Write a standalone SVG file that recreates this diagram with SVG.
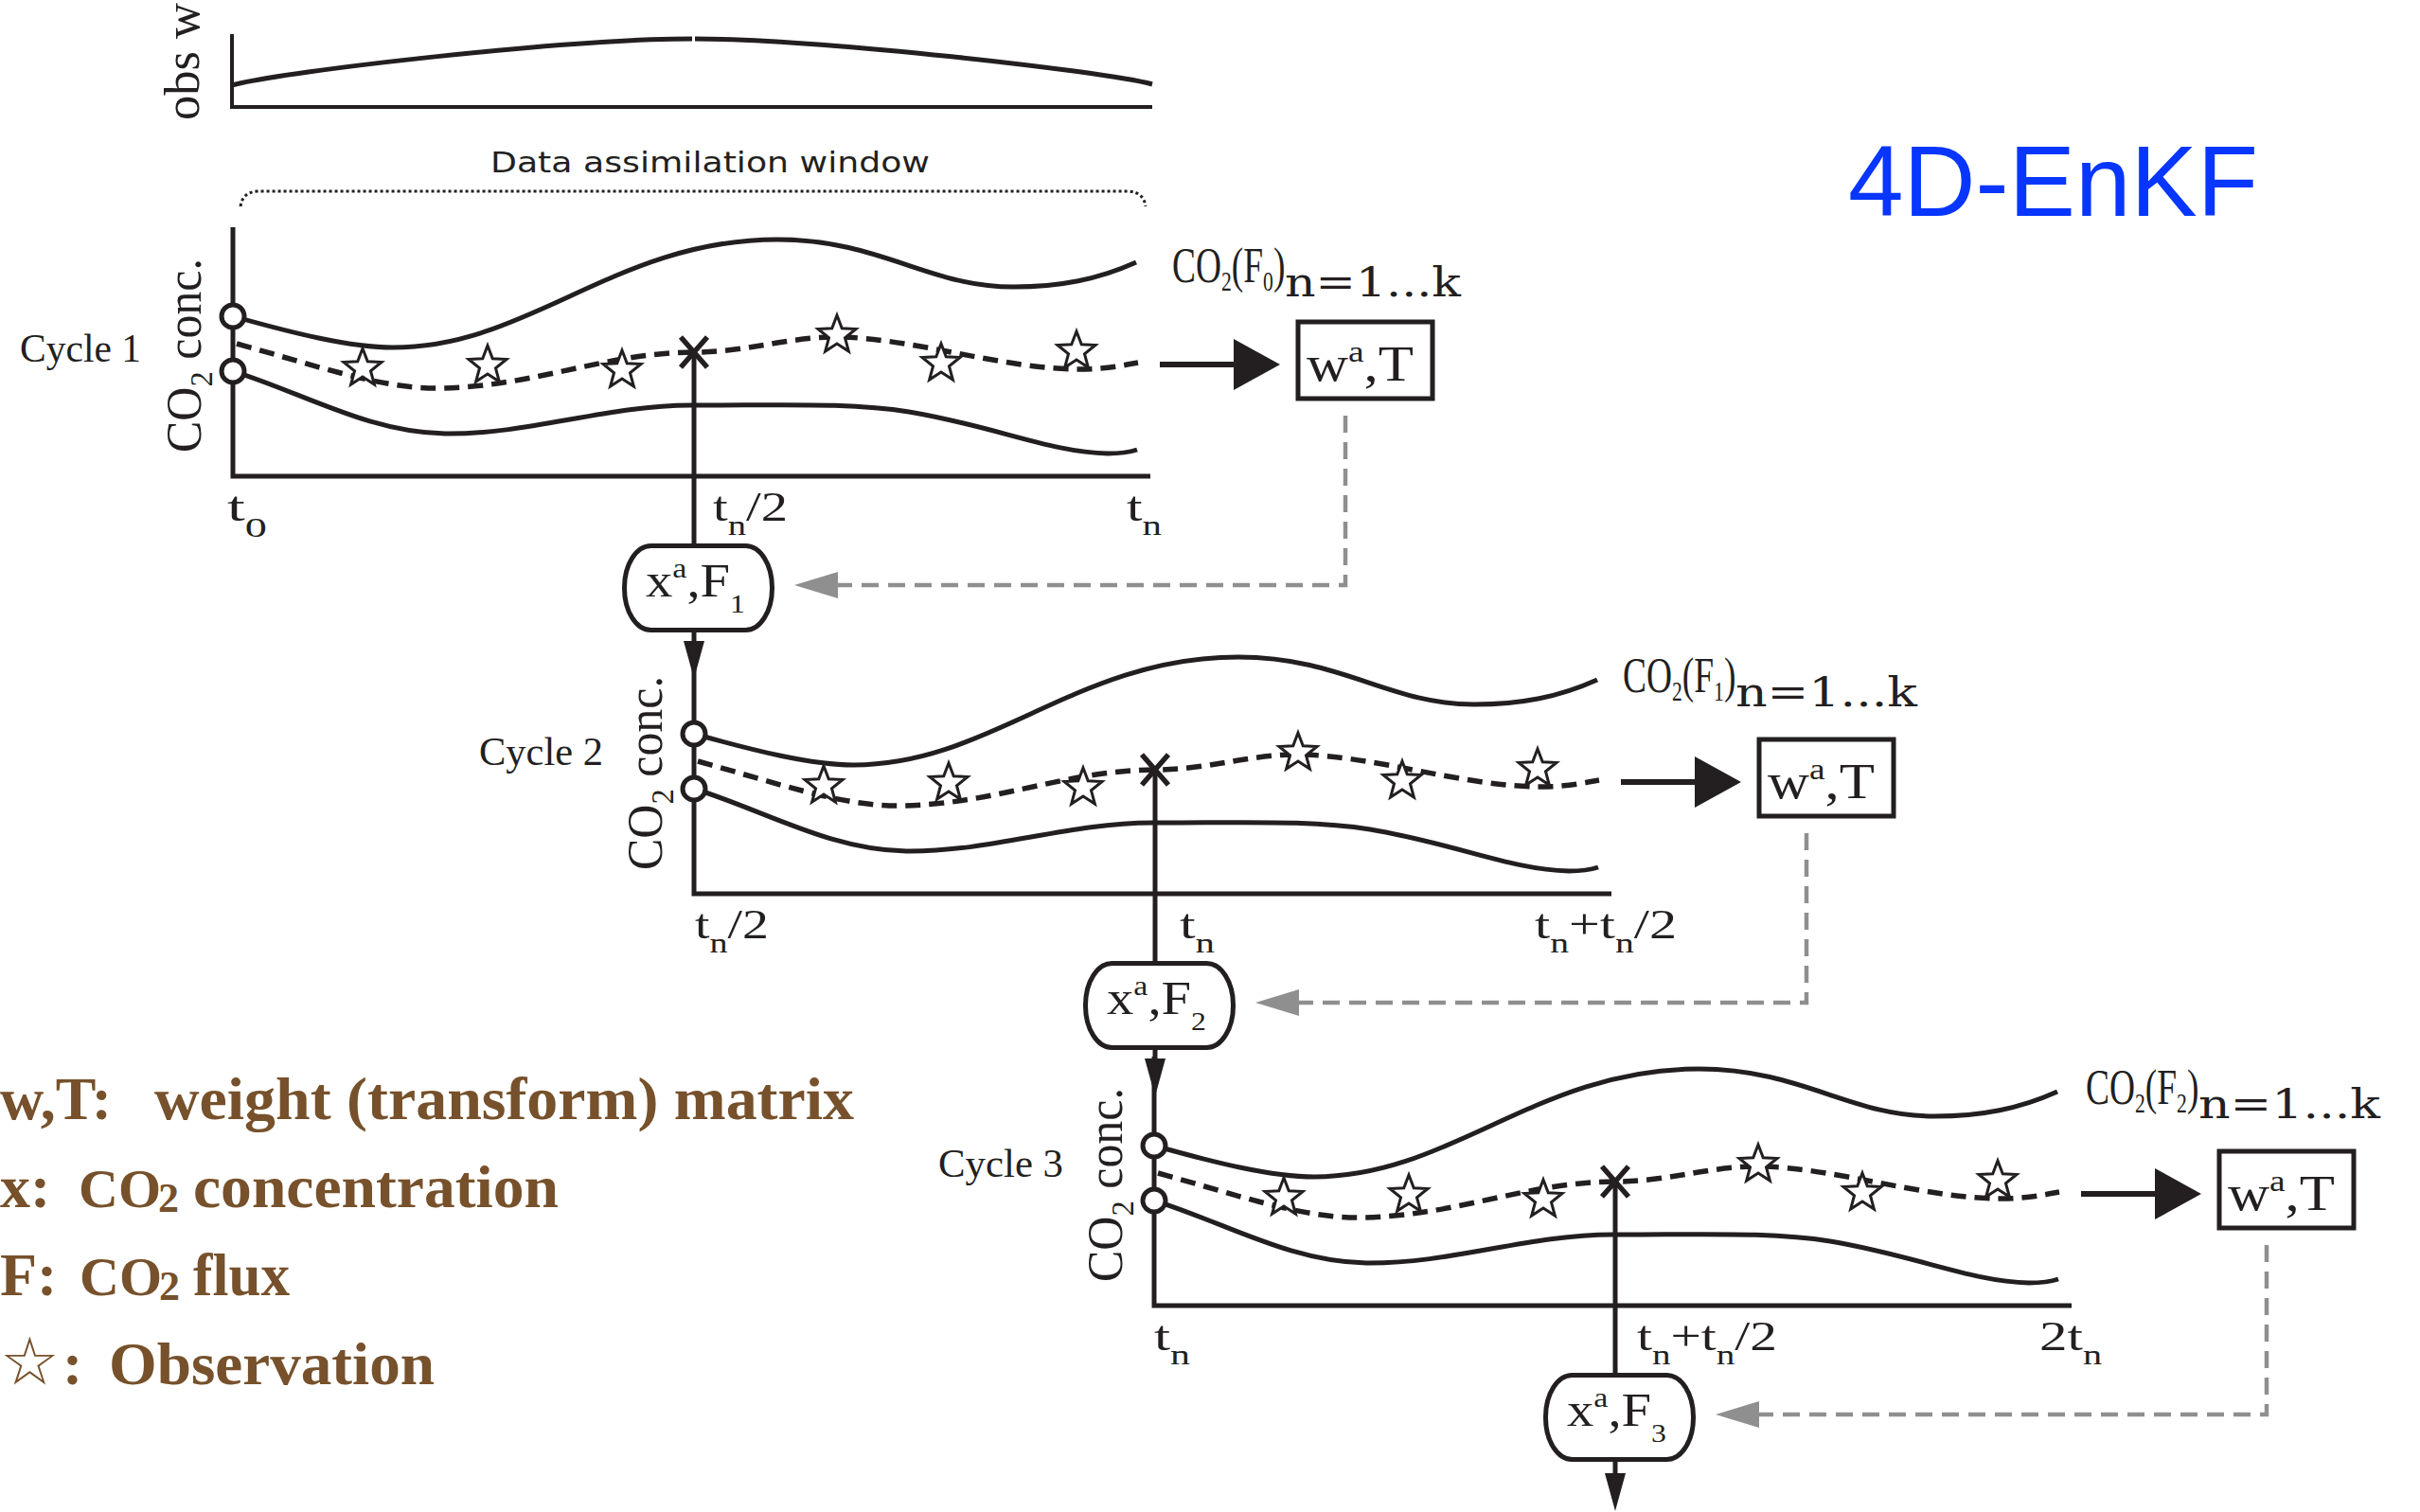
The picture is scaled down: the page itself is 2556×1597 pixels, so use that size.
<svg xmlns="http://www.w3.org/2000/svg" xmlns:xlink="http://www.w3.org/1999/xlink" width="2556" height="1597" viewBox="0 0 2556 1597">
<style>
.ln{fill:none;stroke:#231f20;stroke-width:5}
.dsh{fill:none;stroke:#231f20;stroke-width:5.5;stroke-dasharray:16 9}
.gray{fill:none;stroke:#8f8f8f;stroke-width:4.5;stroke-dasharray:18 10}
.st{fill:#fff;stroke:#231f20;stroke-width:3}
.box{fill:#fff;stroke:#231f20;stroke-width:5}
.serif{font-family:"Liberation Serif",serif;fill:#231f20}
.nk{font-family:"DejaVu Serif","Liberation Serif",serif;fill:#231f20;font-size:42px}
.tick{font-family:"Liberation Serif",serif;fill:#231f20;font-size:44px}
.leg{font-family:"Liberation Serif",serif;font-weight:bold;font-size:64px;fill:#76512b}
</style>
<defs>
<marker id="ahBig" markerUnits="userSpaceOnUse" markerWidth="50" markerHeight="54" viewBox="0 0 50 54" refX="0" refY="27" orient="auto"><path d="M0,0 L49,27 L0,54 z" fill="#231f20"/></marker>
<marker id="ahSmall" markerUnits="userSpaceOnUse" markerWidth="40" markerHeight="22" viewBox="0 0 40 22" refX="0" refY="11" orient="auto"><path d="M0,0 L40,11 L0,22 z" fill="#231f20"/></marker>
<marker id="ahGray" markerUnits="userSpaceOnUse" markerWidth="46" markerHeight="28" viewBox="0 0 46 28" refX="0" refY="14" orient="auto"><path d="M0,0 L46,14 L0,28 z" fill="#8f8f8f"/></marker>
<path id="star" class="st" d="M0,-21 L5.25,-7.22 L19.97,-6.49 L8.48,2.76 L12.35,16.99 L0,9 L-12.35,16.99 L-8.48,2.76 L-19.97,-6.49 L-5.25,-7.22 Z"/>
<g id="plot">
  <path class="ln" d="M246,240 V503 H1215"/>
  <path class="ln" d="M246,334 C310,352 370,367 415,367 C560,367 650,253 821,253 C930,253 980,303 1070,303 C1120,303 1160,295 1200,277"/>
  <path class="ln" d="M246,392 C320,415 390,457 470,458 C560,459 640,428 730,428 C830,428 900,425 960,435 C1050,450 1110,478 1170,479 C1185,479 1195,477 1201,475"/>
  <path class="dsh" d="M250,363 C330,385 400,410 460,410 C560,410 640,372 733,372 C790,372 830,356 883,356 C960,356 1060,390 1140,390 C1170,390 1190,385 1202,383"/>
  <use href="#star" x="383" y="389"/>
  <use href="#star" x="515" y="386"/>
  <use href="#star" x="657" y="391"/>
  <use href="#star" x="884" y="354"/>
  <use href="#star" x="994" y="384"/>
  <use href="#star" x="1137" y="371"/>
  <path class="ln" style="stroke-width:5.5" d="M719,356 L747,388 M747,356 L719,388"/>
  <circle class="box" cx="246" cy="334" r="12"/>
  <circle class="box" cx="246" cy="392" r="12"/>
  <text class="serif" font-size="52" transform="translate(212,478) rotate(-90)" textLength="205" lengthAdjust="spacingAndGlyphs">CO<tspan font-size="34" dy="12">2</tspan><tspan dy="-12"> conc.</tspan></text>
</g>
</defs>

<g id="obs-w">
  <path class="ln" style="stroke-width:4" d="M245,36 V113 H1217"/>
  <path class="ln" d="M245,90 C300,75 600,41 731,41"/>
  <path class="ln" d="M734,41 C865,41 1165,75 1217,89"/>
  <text class="serif" font-size="52" transform="translate(210,127) rotate(-90)" textLength="124" lengthAdjust="spacingAndGlyphs">obs w</text>
</g>

<g id="window">
  <text x="518" y="182" font-family="DejaVu Sans, sans-serif" font-size="31" fill="#231f20" textLength="464" lengthAdjust="spacingAndGlyphs">Data assimilation window</text>
  <path d="M254,218 Q256,203 272,202 L1192,202 Q1208,203 1210,218" fill="none" stroke="#231f20" stroke-width="3" stroke-dasharray="3 3"/>
</g>

<text id="title" x="1952" y="228" font-family="Liberation Sans, Arial, sans-serif" font-size="106" fill="#0836ff" textLength="433" lengthAdjust="spacingAndGlyphs">4D-EnKF</text>

<g id="cycle1">
  <use href="#plot"/>
  <text class="serif" x="21" y="382" font-size="42" textLength="128" lengthAdjust="spacingAndGlyphs">Cycle 1</text>
  <text class="tick" x="240" y="550" textLength="42" lengthAdjust="spacingAndGlyphs">t<tspan font-size="30" dy="17">0</tspan></text>
  <text class="tick" x="753" y="550" textLength="79" lengthAdjust="spacingAndGlyphs">t<tspan font-size="30" dy="15">n</tspan><tspan dy="-15">/2</tspan></text>
  <text class="tick" x="1190" y="550" textLength="37" lengthAdjust="spacingAndGlyphs">t<tspan font-size="30" dy="15">n</tspan></text>
  <text class="serif" font-size="52" transform="translate(1238,298) scale(0.72,1)">CO<tspan font-size="30" dy="9">2</tspan><tspan dy="-9">(F</tspan><tspan font-size="30" dy="9">0</tspan><tspan dy="-9">)</tspan></text>
  <text class="nk" x="1357" y="313" textLength="186" lengthAdjust="spacingAndGlyphs">n=1...k</text>
</g>

<g id="cycle2">
  <use href="#plot" transform="translate(487,441)"/>
  <text class="serif" x="506" y="808" font-size="42" textLength="131" lengthAdjust="spacingAndGlyphs">Cycle 2</text>
  <text class="tick" x="734" y="991" textLength="78" lengthAdjust="spacingAndGlyphs">t<tspan font-size="30" dy="15">n</tspan><tspan dy="-15">/2</tspan></text>
  <text class="tick" x="1246" y="991" textLength="37" lengthAdjust="spacingAndGlyphs">t<tspan font-size="30" dy="15">n</tspan></text>
  <text class="tick" x="1621" y="991" textLength="150" lengthAdjust="spacingAndGlyphs">t<tspan font-size="30" dy="15">n</tspan><tspan dy="-15">+t</tspan><tspan font-size="30" dy="15">n</tspan><tspan dy="-15">/2</tspan></text>
  <text class="serif" font-size="52" transform="translate(1714,731) scale(0.72,1)">CO<tspan font-size="30" dy="9">2</tspan><tspan dy="-9">(F</tspan><tspan font-size="30" dy="9">1</tspan><tspan dy="-9">)</tspan></text>
  <text class="nk" x="1833" y="746" textLength="192" lengthAdjust="spacingAndGlyphs">n=1...k</text>
</g>

<g id="cycle3">
  <use href="#plot" transform="translate(973,876)"/>
  <text class="serif" x="991" y="1243" font-size="42" textLength="132" lengthAdjust="spacingAndGlyphs">Cycle 3</text>
  <text class="tick" x="1219" y="1426" textLength="38" lengthAdjust="spacingAndGlyphs">t<tspan font-size="30" dy="15">n</tspan></text>
  <text class="tick" x="1729" y="1426" textLength="148" lengthAdjust="spacingAndGlyphs">t<tspan font-size="30" dy="15">n</tspan><tspan dy="-15">+t</tspan><tspan font-size="30" dy="15">n</tspan><tspan dy="-15">/2</tspan></text>
  <text class="tick" x="2154" y="1426" textLength="66" lengthAdjust="spacingAndGlyphs">2t<tspan font-size="30" dy="15">n</tspan></text>
  <text class="serif" font-size="52" transform="translate(2203,1166) scale(0.72,1)">CO<tspan font-size="30" dy="9">2</tspan><tspan dy="-9">(F</tspan><tspan font-size="30" dy="9">2</tspan><tspan dy="-9">)</tspan></text>
  <text class="nk" x="2322" y="1181" textLength="192" lengthAdjust="spacingAndGlyphs">n=1...k</text>
</g>

<g id="connectors">
  <path class="ln" style="stroke-width:6" d="M1225,385 H1303" marker-end="url(#ahBig)"/>
  <path class="ln" style="stroke-width:6" d="M1712,826 H1790" marker-end="url(#ahBig)"/>
  <path class="ln" style="stroke-width:6" d="M2198,1261 H2276" marker-end="url(#ahBig)"/>
  <path class="ln" d="M733,372 V577"/>
  <path class="ln" d="M1220,813 V1018"/>
  <path class="ln" d="M1706,1248 V1453"/>
  <path class="ln" d="M733,664 V677" marker-end="url(#ahSmall)"/>
  <path class="ln" d="M1220,1105 V1118" marker-end="url(#ahSmall)"/>
  <path class="ln" d="M1706,1540 V1556" marker-end="url(#ahSmall)"/>
  <path class="gray" d="M1421,439 V618 H885" marker-end="url(#ahGray)"/>
  <path class="gray" d="M1908,880 V1059 H1372" marker-end="url(#ahGray)"/>
  <path class="gray" d="M2394,1315 V1494 H1858" marker-end="url(#ahGray)"/>
</g>

<g id="w-box-1"><rect class="box" x="1371" y="340" width="142" height="81"/><text class="serif" x="1380" y="402" font-size="52" textLength="113" lengthAdjust="spacingAndGlyphs">w<tspan font-size="32" dy="-20">a</tspan><tspan dy="20">,T</tspan></text></g>
<g id="w-box-2"><rect class="box" x="1858" y="781" width="142" height="81"/><text class="serif" x="1867" y="843" font-size="52" textLength="113" lengthAdjust="spacingAndGlyphs">w<tspan font-size="32" dy="-20">a</tspan><tspan dy="20">,T</tspan></text></g>
<g id="w-box-3"><rect class="box" x="2344" y="1216" width="142" height="81"/><text class="serif" x="2353" y="1278" font-size="52" textLength="113" lengthAdjust="spacingAndGlyphs">w<tspan font-size="32" dy="-20">a</tspan><tspan dy="20">,T</tspan></text></g>

<g id="x-box-1"><rect class="box" x="659.5" y="576.5" width="156" height="89" rx="28" ry="44"/><text class="serif" x="682" y="630" font-size="50" textLength="105" lengthAdjust="spacingAndGlyphs">x<tspan font-size="30" dy="-20">a</tspan><tspan dy="20">,F</tspan><tspan font-size="28" dy="17">1</tspan></text></g>
<g id="x-box-2"><rect class="box" x="1146.5" y="1017.5" width="156" height="89" rx="28" ry="44"/><text class="serif" x="1169" y="1071" font-size="50" textLength="105" lengthAdjust="spacingAndGlyphs">x<tspan font-size="30" dy="-20">a</tspan><tspan dy="20">,F</tspan><tspan font-size="28" dy="17">2</tspan></text></g>
<g id="x-box-3"><rect class="box" x="1632.5" y="1452.5" width="156" height="89" rx="28" ry="44"/><text class="serif" x="1655" y="1506" font-size="50" textLength="105" lengthAdjust="spacingAndGlyphs">x<tspan font-size="30" dy="-20">a</tspan><tspan dy="20">,F</tspan><tspan font-size="28" dy="17">3</tspan></text></g>

<g id="legend">
  <text class="leg" y="1182"><tspan x="0">w,T:</tspan> <tspan x="163" textLength="739" lengthAdjust="spacingAndGlyphs">weight (transform) matrix</tspan></text>
  <text class="leg" y="1275"><tspan x="0">x:</tspan> <tspan x="83" font-size="58">CO</tspan><tspan x="167" font-size="44" dy="5">2</tspan> <tspan x="204" dy="-5" textLength="386" lengthAdjust="spacingAndGlyphs">concentration</tspan></text>
  <text class="leg" y="1368"><tspan x="0">F:</tspan> <tspan x="84" font-size="58">CO</tspan><tspan x="168" font-size="44" dy="5">2</tspan> <tspan x="204" dy="-5" textLength="102" lengthAdjust="spacingAndGlyphs">flux</tspan></text>
  <text class="leg" y="1462"><tspan x="0" font-family="DejaVu Sans, sans-serif" font-weight="normal" font-size="70">☆</tspan><tspan x="66">:</tspan> <tspan x="115" textLength="344" lengthAdjust="spacingAndGlyphs">Observation</tspan></text>
</g>
</svg>
